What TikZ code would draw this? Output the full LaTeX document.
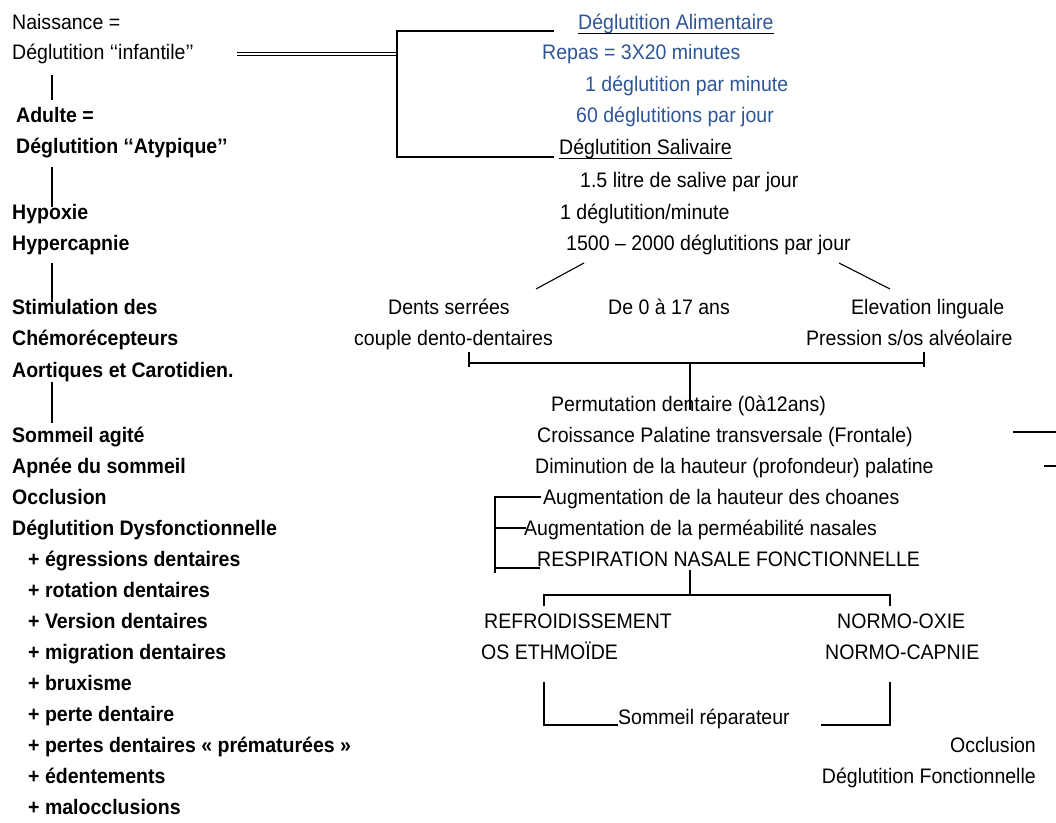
\documentclass[tikz,border=0pt]{standalone}
\usepackage{fontspec}
\setmainfont{Liberation Sans}[FakeStretch=0.93]
\definecolor{bleu}{HTML}{2F5597}

\begin{document}
\begin{tikzpicture}[x=1pt,y=-1pt,
  every node/.style={inner sep=0pt,font=\fontsize{21}{25}\selectfont},
  txt/.style={anchor=base west},
  gras/.style={anchor=base west,font=\fontsize{21}{25}\selectfont\bfseries},
  bleu/.style={txt,text=bleu},
  trait/.style={line width=1.1pt}]
  \useasboundingbox (0,0) rectangle (1056,822);

  % colonne de gauche
  \node[txt] (nais) at (12,29) {Naissance =};
  \node[txt] (infant) at (12,59) {Déglutition ‘‘infantile’’};
  \node[gras] (adulte) at (16,122) {Adulte =};
  \node[gras] (atyp) at (16,153) {Déglutition ‘‘Atypique’’};
  \node[gras] (hypox) at (12,219) {Hypoxie};
  \node[gras] (hypercap) at (12,250) {Hypercapnie};
  \node[gras] (stim) at (12,314) {Stimulation des};
  \node[gras] (chemo) at (12,345) {Chémorécepteurs};
  \node[gras] (aort) at (12,377) {Aortiques et Carotidien.};
  \node[gras] (somag) at (12,442) {Sommeil agité};
  \node[gras] (apnee) at (12,473) {Apnée du sommeil};
  \node[gras] (occl) at (12,504) {Occlusion};
  \node[gras] (dysf) at (12,535) {Déglutition Dysfonctionnelle};
  \node[gras] (egr) at (28,566) {+ égressions dentaires};
  \node[gras] (rot) at (28,597) {+ rotation dentaires};
  \node[gras] (vers) at (28,628) {+ Version dentaires};
  \node[gras] (migr) at (28,659) {+ migration dentaires};
  \node[gras] (brux) at (28,690) {+ bruxisme};
  \node[gras] (perte) at (28,721) {+ perte dentaire};
  \node[gras] (pertes) at (28,752) {+ pertes dentaires « prématurées »};
  \node[gras] (edent) at (28,783) {+ édentements};
  \node[gras] (maloc) at (28,814) {+ malocclusions};
  \draw[trait] (52,75) -- (52,100);
  \draw[trait] (52,167) -- (52,207);
  \draw[trait] (52,263) -- (52,302);
  \draw[trait] (52,382) -- (52,423);

  % deux deglutitions
  \draw[line width=1.3pt,double,double distance=1.5pt] (237,54) -- (397,54);
  \draw[trait] (554,31) -- (397,31) -- (397,157) -- (554,157);
  \node[bleu] (alim) at (578,29) {Déglutition Alimentaire};
  \draw[bleu,line width=1pt] (alim.south west) -- (alim.south east);
  \node[bleu] (repas) at (542,59) {Repas = 3X20 minutes};
  \node[bleu] (parmin) at (585,91) {1 déglutition par minute};
  \node[bleu] (parjour) at (576,122) {60 déglutitions par jour};
  \node[txt] (saliv) at (559,154) {Déglutition Salivaire};
  \draw[line width=1pt] (saliv.south west) -- (saliv.south east);
  \node[txt] (litre) at (580,187) {1.5 litre de salive par jour};
  \node[txt] (degmin) at (560,219) {1 déglutition/minute};
  \node[txt] (total) at (566,250) {1500 – 2000 déglutitions par jour};
  \draw[trait] (536,289) -- (584,263);
  \draw[trait] (839,263) -- (890,289);

  % croissance
  \node[txt] (dents) at (388,314) {Dents serrées};
  \node[txt] (couple) at (354,345) {couple dento-dentaires};
  \node[txt] (age) at (608,314) {De 0 à 17 ans};
  \node[txt] (elev) at (851,314) {Elevation linguale};
  \node[txt] (press) at (806,345) {Pression s/os alvéolaire};
  \draw[trait] (469,352) -- (469,367);
  \draw[trait] (924,352) -- (924,367);
  \draw[trait] (469,363) -- (924,363);
  \draw[trait] (690,363) -- (690,410);
  \node[txt] (perm) at (551,411) {Permutation dentaire (0à12ans)};
  \node[txt] (crois) at (537,442) {Croissance Palatine transversale (Frontale)};
  \node[txt] (dimin) at (535,473) {Diminution de la hauteur (profondeur) palatine};
  \draw[trait] (1013,432) -- (1056,432);
  \draw[trait] (1044,466) -- (1056,466);
  \node[txt] (choan) at (543,504) {Augmentation de la hauteur des choanes};
  \node[txt] (nasal) at (524,535) {Augmentation de la perméabilité nasales};
  \node[txt] (resp) at (537,566) {RESPIRATION NASALE FONCTIONNELLE};
  \draw[trait] (541,497) -- (495,497) -- (495,573);
  \draw[trait] (495,528) -- (526,528);
  \draw[trait] (495,568) -- (540,568);

  % respiration nasale
  \draw[trait] (690,570) -- (690,595);
  \draw[trait] (544,606) -- (544,595) -- (890,595) -- (890,606);
  \node[txt] (refr) at (484,628) {REFROIDISSEMENT};
  \node[txt] (ethm) at (481,659) {OS ETHMOÏDE};
  \node[txt] (oxie) at (837,628) {NORMO-OXIE};
  \node[txt] (capn) at (825,659) {NORMO-CAPNIE};
  \draw[trait] (544,682) -- (544,725) -- (618,725);
  \draw[trait] (821,725) -- (890,725) -- (890,682);
  \node[txt] (repar) at (618,724) {Sommeil réparateur};
  \node[anchor=base east] (occf) at (1036,752) {Occlusion};
  \node[anchor=base east] (degf) at (1036,783) {Déglutition Fonctionnelle};
\end{tikzpicture}
\end{document}
